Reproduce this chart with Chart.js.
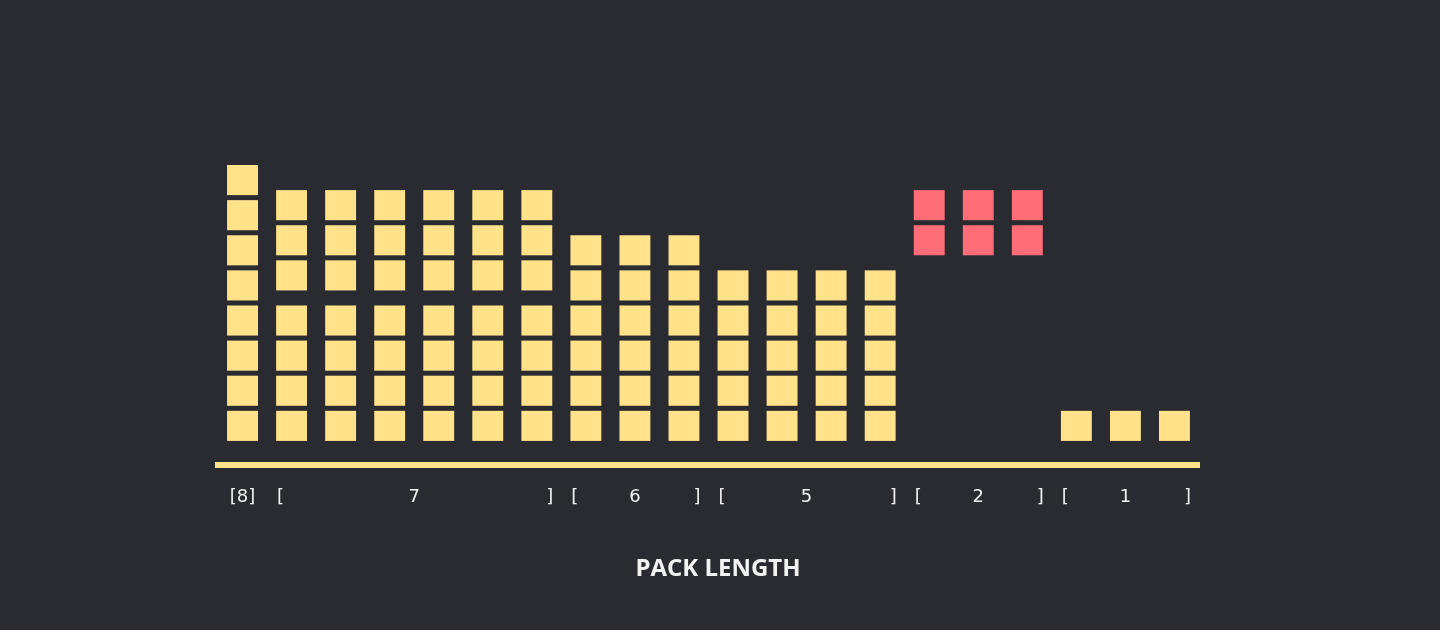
<!DOCTYPE html>
<html><head><meta charset="utf-8">
<script src="https://cdn.jsdelivr.net/npm/chart.js@4"></script>
<style>html,body{margin:0;background:#292b30}#wrap{width:1440px;height:630px}</style>
</head><body><div id="wrap"><canvas id="packs"></canvas></div>
<script>
// one column per pack, stack height = blocks in the pack
const counts = [8,7,7,7,7,7,7,6,6,6,5,5,5,5,2,2,2,1,1,1];
const startLevel = [0,0,0,0,0,0,0,0,0,0,0,0,0,0,5,5,5,0,0,0];
const flagged = [14,15,16];
const groupNames = ['8','7','6','5','2','1'];
const groupFirst = [0,1,7,10,14,17];
const groupLast  = [0,6,9,13,16,19];

const YELLOW = '#ffe28a', RED = '#ff6e78';
const blockH = 30/35;

var datasets = [];
for (let k = 0; k < 8; k++) {
  let data = counts.map(function(n, c){
    if (k >= n) return null;
    let lvl = startLevel[c] + k;
    // the 7-packs and the red ones sit a little higher in their upper part
    let lift = (n == 7 && k >= 4) || flagged.includes(c) ? 10/35 : 0;
    return [lvl + lift, lvl + lift + blockH];
  });
  datasets.push({
    data: data,
    backgroundColor: counts.map((n, c) => flagged.includes(c) ? RED : YELLOW),
    barPercentage: 0.63,
    categoryPercentage: 1,
    borderSkipped: false,
  });
}

const labelPlugin = {
  id: 'groups',
  afterDraw(chart) {
    const ctx = chart.ctx, xs = chart.scales.x;
    ctx.save();
    ctx.fillStyle = '#f2f2f2';
    ctx.textBaseline = 'middle';
    ctx.font = '18px "DejaVu Sans"';
    const y = 497;
    groupNames.forEach(function(name, i){
      let a = xs.getPixelForValue(groupFirst[i]), b = xs.getPixelForValue(groupLast[i]);
      ctx.textAlign = 'center';
      if (groupFirst[i] == groupLast[i]) {
        ctx.fillText('[' + name + ']', a, y);
      } else {
        ctx.fillText('[', a - 11, y);
        ctx.fillText(name, (a + b) / 2, y);
        ctx.fillText(']', b + 13, y);
      }
    });
    ctx.font = 'bold 24px "Open Sans"';
    ctx.textAlign = 'center';
    ctx.fillText('PACK LENGTH', 718, 569);
    ctx.restore();
  }
};

new Chart(document.getElementById('packs'), {
  type: 'bar',
  data: { labels: counts.map((n, i) => i), datasets: datasets },
  options: {
    responsive: true,
    maintainAspectRatio: false,
    animation: false,
    grouped: false,
    layout: { padding: { left: 218, right: 241, top: 160, bottom: 165 } },
    plugins: { legend: { display: false }, tooltip: { enabled: false } },
    scales: {
      x: {
        ticks: { display: false },
        grid: { display: false, drawTicks: false },
        border: { color: YELLOW, width: 6 },
      },
      y: {
        display: false,
        min: -24/35,
        max: 8,
      }
    }
  },
  plugins: [labelPlugin]
});
</script>
</body></html>
